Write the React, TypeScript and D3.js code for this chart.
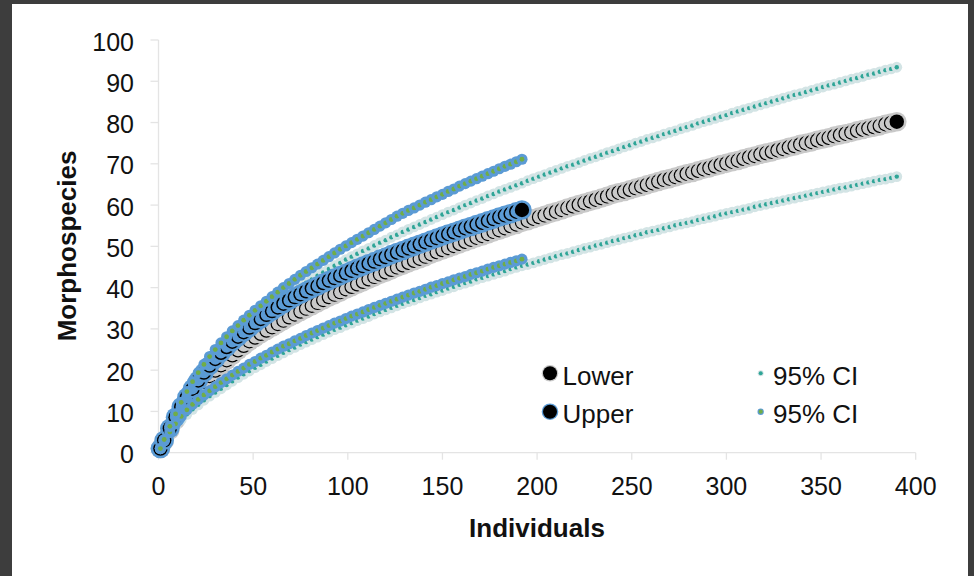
import * as d3 from "d3";

// individuals (sample size) at which each marker sits
const nLower = [1, ...d3.range(3, 391, 3)];
const nUpper = [1, ...d3.range(3, 193, 3)];

// "Lower" sample: mean curve and its 95% CI
const lowerMean = [
  1.0, 2.9, 5.5, 7.9, 10.1, 12.1, 13.9, 15.6, 17.2, 18.6, 19.9, 21.2, 22.4, 23.6, 24.8, 25.9, 27.0,
  27.9, 28.8, 29.6, 30.4, 31.2, 32.0, 32.8, 33.5, 34.2, 34.9, 35.6, 36.3, 37.0, 37.7, 38.3, 38.9,
  39.6, 40.2, 40.8, 41.4, 42.0, 42.6, 43.2, 43.7, 44.3, 44.9, 45.4, 46.0, 46.5, 47.0, 47.5, 48.1,
  48.6, 49.1, 49.6, 50.1, 50.6, 51.1, 51.6, 52.1, 52.5, 53.0, 53.5, 53.9, 54.4, 54.9, 55.3, 55.8,
  56.2, 56.7, 57.1, 57.5, 58.0, 58.4, 58.8, 59.3, 59.7, 60.1, 60.5, 60.9, 61.3, 61.7, 62.1, 62.6,
  63.0, 63.3, 63.7, 64.1, 64.5, 64.9, 65.3, 65.7, 66.1, 66.4, 66.8, 67.2, 67.6, 67.9, 68.3, 68.7,
  69.0, 69.4, 69.8, 70.1, 70.5, 70.8, 71.2, 71.6, 71.9, 72.3, 72.6, 72.9, 73.3, 73.6, 74.0, 74.3,
  74.7, 75.0, 75.3, 75.7, 76.0, 76.3, 76.7, 77.0, 77.3, 77.6, 78.0, 78.3, 78.6, 78.9, 79.2, 79.6,
  79.9, 80.2,
];
const lowerHigh = [
  1.0, 3.1, 6.2, 9.1, 11.8, 14.3, 16.6, 18.7, 20.6, 22.3, 23.9, 25.4, 26.8, 28.1, 29.3, 30.5, 31.8,
  32.9, 33.9, 34.9, 35.9, 36.8, 37.7, 38.6, 39.5, 40.4, 41.2, 42.0, 42.9, 43.7, 44.5,
  45.3, 46.0, 46.8, 47.5, 48.2, 48.9, 49.5, 50.2, 50.9, 51.5, 52.2, 52.8, 53.5, 54.1, 54.7, 55.3,
  55.9, 56.5, 57.1, 57.7, 58.3, 58.8, 59.4, 60.0, 60.5, 61.1, 61.6, 62.2, 62.7, 63.3, 63.8, 64.3,
  64.8, 65.3, 65.9, 66.4, 66.9, 67.4, 67.9, 68.4, 68.9, 69.4, 69.8, 70.3, 70.8, 71.3, 71.7, 72.2,
  72.7, 73.1, 73.6, 74.1, 74.5, 75.0, 75.4, 75.9, 76.3, 76.7, 77.2, 77.6, 78.0, 78.5, 78.9, 79.3,
  79.8, 80.2, 80.6, 81.0, 81.4, 81.8, 82.3, 82.7, 83.1, 83.5, 83.9, 84.3, 84.7, 85.1, 85.5, 85.9,
  86.3, 86.7, 87.0, 87.4, 87.8, 88.2, 88.6, 89.0, 89.3, 89.7, 90.1, 90.5, 90.8, 91.2, 91.6, 91.9,
  92.3, 92.7, 93.0, 93.4,
];
const lowerLow = [
  1.0, 2.7, 4.8, 6.5, 8.0, 9.3, 10.5, 11.6, 12.7, 13.7, 14.6, 15.5, 16.4, 17.3, 18.2, 19.0,
  19.8, 20.6, 21.3, 22.1, 22.8, 23.5, 24.2, 24.9, 25.5, 26.2, 26.8, 27.4, 28.0, 28.6, 29.2, 29.8,
  30.3, 30.9, 31.4, 32.0, 32.5, 33.0, 33.6, 34.1, 34.6, 35.1, 35.6, 36.1, 36.6, 37.0, 37.5, 38.0,
  38.4, 38.9, 39.3, 39.8, 40.2, 40.7, 41.1, 41.5, 42.0, 42.4, 42.8, 43.2, 43.6, 44.0, 44.5, 44.9,
  45.3, 45.6, 46.0, 46.4, 46.8, 47.2, 47.6, 48.0, 48.3, 48.7, 49.1, 49.5, 49.8, 50.2, 50.5, 50.9,
  51.3, 51.6, 52.0, 52.3, 52.7, 53.0, 53.4, 53.7, 54.0, 54.4, 54.7, 55.1, 55.4, 55.7, 56.0, 56.4,
  56.7, 57.0, 57.3, 57.7, 58.0, 58.3, 58.6, 58.9, 59.2, 59.6, 59.9, 60.2, 60.5, 60.8, 61.1, 61.4,
  61.7, 62.0, 62.3, 62.6, 62.9, 63.2, 63.5, 63.8, 64.1, 64.3, 64.6, 64.9, 65.2, 65.5, 65.8, 66.1,
  66.3, 66.6, 66.9,
];

// "Upper" sample: mean curve and its 95% CI
const upperMean = [
  1.0, 3.0, 5.9, 8.6, 11.1, 13.4, 15.5, 17.5, 19.4, 21.1, 22.7, 24.2, 25.6, 26.9, 28.1, 29.2, 30.3,
  31.4, 32.4, 33.4, 34.3, 35.2, 36.1, 36.9, 37.7, 38.4, 39.1, 39.8, 40.4, 41.1, 41.7, 42.3, 42.9,
  43.5, 44.1, 44.7, 45.2, 45.8, 46.3, 46.9, 47.4, 48.0, 48.5, 49.0, 49.5, 50.0, 50.5, 51.0, 51.5,
  52.0, 52.5, 53.0, 53.4, 53.9, 54.4, 54.8, 55.3, 55.7, 56.2, 56.6, 57.1, 57.5, 57.9, 58.4, 58.8,
];
const upperHigh = [
  1.0, 3.2, 6.4, 9.4, 12.2, 14.8, 17.2, 19.4, 21.4, 23.3, 25.0, 26.6, 28.1, 29.5, 30.8, 32.1, 33.3,
  34.5, 35.6, 36.7, 37.8, 38.9, 40.0, 41.0, 42.0, 43.0, 43.9, 44.8, 45.7, 46.6, 47.5, 48.4, 49.3,
  50.1, 50.9, 51.7, 52.5, 53.3, 54.1, 54.9, 55.7, 56.5, 57.3, 58.0, 58.7, 59.3, 60.0, 60.7, 61.3,
  62.0, 62.6, 63.3, 63.9, 64.6, 65.2, 65.8, 66.4, 67.0, 67.6, 68.2, 68.8, 69.4, 69.9, 70.5, 71.1,
];
const upperLow = [
  1.0, 2.8, 5.0, 7.0, 8.8, 10.4, 11.7, 12.9, 14.0, 15.0, 16.0, 17.0, 17.9, 18.8, 19.7, 20.5, 21.4,
  22.1, 22.9, 23.6, 24.4, 25.1, 25.8, 26.4, 27.1, 27.7, 28.4, 29.0, 29.6, 30.2, 30.8, 31.4, 31.9,
  32.5, 33.1, 33.6, 34.1, 34.7, 35.2, 35.7, 36.2, 36.7, 37.2, 37.7, 38.2, 38.7, 39.1, 39.6, 40.1,
  40.5, 41.0, 41.4, 41.9, 42.3, 42.7, 43.2, 43.6, 44.0, 44.5, 44.9, 45.3, 45.7, 46.1, 46.5, 46.9,
];

const xTicks = [0, 50, 100, 150, 200, 250, 300, 350, 400];
const yTicks = [0, 10, 20, 30, 40, 50, 60, 70, 80, 90, 100];
const legendItems = ["Lower", "Upper", "95% CI", "95% CI"];

const FONT = "'Liberation Sans', Arial, Helvetica, sans-serif";
const AXIS = "#e4e4e4";

// halo = glow round the marker; core = how much of a hidden marker shows (only the
// crescent of each marker peeks out behind the next one, the last one shows whole)
type Style = { r: number; halo: number; fill: string; ring: string; core: number };
const bigGrey: Style = { r: 7.2, halo: 9.8, fill: "#000", ring: "#c9c9c9", core: 6.0 };
const bigBlue: Style = { r: 7.2, halo: 9.8, fill: "#000", ring: "#5b9bd5", core: 5.7 };
const dotTeal: Style = { r: 2.2, halo: 5.4, fill: "#2fa597", ring: "#d3e4e5", core: 0 };
const dotGreen: Style = { r: 2.4, halo: 5.6, fill: "#70ad47", ring: "#5b9bd5", core: 0 };

function Marker({ cx, cy, s, last }: { cx: number; cy: number; s: Style; last: boolean }) {
  return (
    <g>
      <circle cx={cx} cy={cy} r={s.halo} fill={s.ring} />
      <circle cx={cx} cy={cy} r={s.r} fill={s.fill} />
      {!last && s.core > 0 && <circle cx={cx} cy={cy} r={s.core} fill={s.ring} />}
    </g>
  );
}

export default function App() {
  const x = d3.scaleLinear().domain([0, 400]).range([158.5, 915.7]);
  const y = d3.scaleLinear().domain([0, 100]).range([452.7, 40]);

  const series = (ns: number[], vs: number[], s: Style, key: string) => (
    <g key={key}>
      {vs.map((v, i) => (
        <Marker key={i} cx={x(ns[i])} cy={y(v)} s={s} last={i === vs.length - 1} />
      ))}
    </g>
  );

  return (
    <>
      <style>{`body{margin:0}`}</style>
      <svg width={974} height={576} style={{ display: "block" }} fontFamily={FONT}>
        <rect width={974} height={576} fill="#3d3d3d" />
        <rect x={12} y={4} width={956} height={572} fill="#fff" />

        {/* axes */}
        <line x1={x(0)} x2={x(400)} y1={y(0)} y2={y(0)} stroke={AXIS} strokeWidth={1.3} />
        <line x1={x(0)} x2={x(0)} y1={y(0)} y2={y(100)} stroke={AXIS} strokeWidth={1.3} />
        {xTicks.map((t) => (
          <g key={t}>
            <line x1={x(t)} x2={x(t)} y1={y(0)} y2={y(0) + 7} stroke={AXIS} strokeWidth={1.3} />
            <text x={x(t)} y={495} fontSize={25} textAnchor="middle" fill="#111">
              {t}
            </text>
          </g>
        ))}
        {yTicks.map((t) => (
          <g key={t}>
            <line x1={x(0) - 8} x2={x(0)} y1={y(t)} y2={y(t)} stroke={AXIS} strokeWidth={1.3} />
            <text x={134} y={y(t) + 10.5} fontSize={25} textAnchor="end" fill="#111">
              {t}
            </text>
          </g>
        ))}
        <text x={537} y={537} fontSize={26} fontWeight="bold" textAnchor="middle" fill="#111">
          Individuals
        </text>
        <text
          transform="translate(76,246) rotate(-90)"
          fontSize={26}
          fontWeight="bold"
          textAnchor="middle"
          fill="#111"
        >
          Morphospecies
        </text>

        {/* data */}
        {series(nLower, lowerMean, bigGrey, "lm")}
        {series(nLower, lowerLow, dotTeal, "ll")}
        {series(nLower, lowerHigh, dotTeal, "lh")}
        {series(nUpper, upperMean, bigBlue, "um")}
        {series(nUpper, upperLow, dotGreen, "ul")}
        {series(nUpper, upperHigh, dotGreen, "uh")}

        {/* legend */}
        <circle cx={550} cy={373.3} r={8.3} fill="#c9c9c9" />
        <circle cx={550} cy={373.3} r={7} fill="#000" />
        <circle cx={550} cy={411.7} r={8.3} fill="#5b9bd5" />
        <circle cx={550} cy={411.7} r={7} fill="#000" />
        <circle cx={760.7} cy={373.3} r={3} fill="#d3e4e5" />
        <circle cx={760.7} cy={373.3} r={2} fill="#2fa597" />
        <circle cx={760.7} cy={411.7} r={3.2} fill="#5b9bd5" />
        <circle cx={760.7} cy={411.7} r={2.1} fill="#70ad47" />
        {legendItems.map((t, i) => (
          <text
            key={i}
            x={i < 2 ? 562.5 : 773}
            y={i % 2 === 0 ? 385 : 423}
            fontSize={26}
            fill="#111"
          >
            {t}
          </text>
        ))}
      </svg>
    </>
  );
}
